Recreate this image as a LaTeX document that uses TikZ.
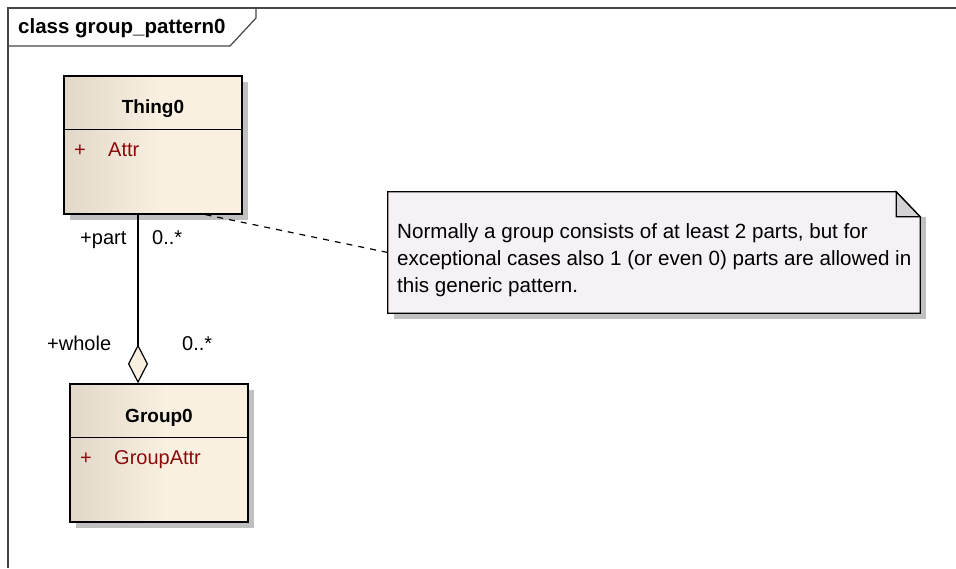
\documentclass[tikz,border=0pt]{standalone}
\usepackage{fontspec}
\setmainfont{Liberation Sans}
\usetikzlibrary{arrows.meta,shadows}

\definecolor{classdark}{RGB}{226,216,200}
\definecolor{classlight}{RGB}{250,240,226}
\definecolor{attrred}{RGB}{140,10,10}
\definecolor{notefill}{RGB}{245,241,245}
\definecolor{foldgray}{RGB}{212,208,212}
\definecolor{shadowgray}{RGB}{192,192,192}
\definecolor{framegray}{RGB}{70,70,70}

\pgfdeclarehorizontalshading{classshade}{100bp}{color(0bp)=(classdark); color(25bp)=(classdark); color(52bp)=(classlight); color(100bp)=(classlight)}

\newcommand\umlfont{\fontsize{20pt}{24pt}\selectfont}
\newcommand\notefont{\fontsize{20.6pt}{24pt}\selectfont}

\tikzset{
  classbox/.style={draw, line width=1.3pt, shade, shading=classshade, minimum width=178, minimum height=138, inner sep=0,
    drop shadow={shadow xshift=6pt, shadow yshift=-6pt, fill=shadowgray, opacity=1}},
  umltext/.style={font=\umlfont, inner sep=0},
  classname/.style={umltext, font=\fontsize{19pt}{23pt}\selectfont\bfseries, anchor=base},
  attr/.style={umltext, text=attrred, anchor=base west},
  rolelabel/.style={umltext, anchor=base west},
  frameline/.style={framegray, line width=1.2pt},
  assoc/.style={line width=1.2pt, -{Diamond[length=39pt, width=20pt, fill=classlight]}},
  notelink/.style={line width=1.2pt, dash pattern=on 6pt off 6pt},
  notebox/.style={fill=notefill, draw, line width=1.3pt, line join=miter}
}

\begin{document}
\begin{tikzpicture}[x=1pt, y=-1pt]
    \useasboundingbox (0,0) rectangle (956,568);

    % Diagram frame and its name tab
    \draw[frameline] (956,8) -- (8,8) -- (8,568);
    \draw[frameline] (8,46) -- (230,46) -- (256,18) -- (256,8);
    \node[umltext, font=\fontsize{20.5pt}{24pt}\selectfont\bfseries, anchor=base west] (frametitle) at (18,33) {class group\_pattern0};

    % The two classes
    \node[classbox] (thing) at (153,145) {};
    \node[classbox] (group) at (159,453) {};
    \foreach \cls in {thing, group} {
        \draw[line width=1.3pt] ([yshift=-54pt]\cls.north west) -- ([yshift=-54pt]\cls.north east);
    }

    \node[classname] (thingname) at (153,113) {Thing0};
    \node[attr] (thingplus) at (74,156) {+};
    \node[attr] (thingattr) at (108,156) {Attr};

    \node[classname] (groupname) at (159,422) {Group0};
    \node[attr] (groupplus) at (80,464) {+};
    \node[attr] (groupattr) at (114,464) {GroupAttr};

    % Aggregation with its role names and multiplicities
    \coordinate (axis) at (138,0);
    \draw[assoc] (thing.south -| axis) -- (group.north -| axis);

    \node[rolelabel] (partrole) at (80,244) {+part};
    \node[rolelabel] (partmult) at (152,244) {0..*};
    \node[rolelabel] (wholerole) at (47,350) {+whole};
    \node[rolelabel] (wholemult) at (182,350) {0..*};

    % Note with folded corner
    \node[inner sep=0, minimum width=532, minimum height=121] (note) at (654,252.5) {};
    \draw[notelink] (thing.-53) -- (note.west);

    \fill[shadowgray] ([shift={(6,25)}]note.north west) rectangle ([shift={(6,6)}]note.south east);
    \filldraw[notebox] (note.north west) -- ([xshift=-24pt]note.north east) -- ([yshift=-25pt]note.north east)
        -- (note.south east) -- (note.south west) -- cycle;
    \filldraw[notebox, fill=foldgray] ([xshift=-24pt]note.north east) -- ([xshift=-24pt, yshift=-25pt]note.north east)
        -- ([yshift=-25pt]note.north east) -- cycle;

    \foreach \n/\y/\txt in {
    1/238/{Normally a group consists of at least 2 parts, but for},
    2/265/{exceptional cases also 1 (or even 0) parts are allowed in},
    3/292/{this generic pattern.}} {
        \node[rolelabel, font=\notefont] (noteline\n) at (397,\y) {\txt};
    }

\end{tikzpicture}
\end{document}
